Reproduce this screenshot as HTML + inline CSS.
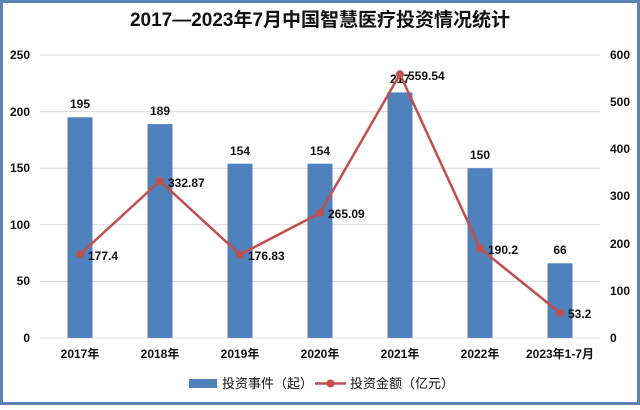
<!DOCTYPE html>
<html><head><meta charset="utf-8"><style>
body{margin:0;background:#fff;}
svg text{font-family:"Liberation Sans","Noto Sans CJK SC",sans-serif;}
</style></head><body>
<svg width="640" height="405" viewBox="0 0 640 405" xmlns="http://www.w3.org/2000/svg">
<rect x="1.5" y="1.5" width="637" height="402" fill="#fff" stroke="#5b84b5" stroke-width="3"/>
<text x="320" y="26" text-anchor="middle" font-size="19" font-weight="bold" fill="#111">2017—2023年7月中国智慧医疗投资情况统计</text>
<g stroke="#d9d9d9" stroke-width="1">
<line x1="40" x2="600" y1="55" y2="55"/><line x1="40" x2="600" y1="111.6" y2="111.6"/>
<line x1="40" x2="600" y1="168.2" y2="168.2"/><line x1="40" x2="600" y1="224.8" y2="224.8"/>
<line x1="40" x2="600" y1="281.4" y2="281.4"/><line x1="40" x2="600" y1="338" y2="338"/>
</g>
<g font-size="12" font-weight="bold" fill="#111">
<text x="30" y="59" text-anchor="end">250</text><text x="30" y="116" text-anchor="end">200</text>
<text x="30" y="172" text-anchor="end">150</text><text x="30" y="229" text-anchor="end">100</text>
<text x="30" y="285" text-anchor="end">50</text><text x="30" y="342" text-anchor="end">0</text>
<text x="610" y="59">600</text><text x="610" y="106">500</text><text x="610" y="153">400</text>
<text x="610" y="200">300</text><text x="610" y="248">200</text><text x="610" y="295">100</text><text x="610" y="342">0</text>
</g>
<g fill="#4f81bd">
<rect x="67.5" y="117.3" width="25" height="220.7"/>
<rect x="147.5" y="124.1" width="25" height="213.9"/>
<rect x="227.5" y="163.7" width="25" height="174.3"/>
<rect x="307.5" y="163.7" width="25" height="174.3"/>
<rect x="387.5" y="92.4" width="25" height="245.6"/>
<rect x="467.5" y="168.2" width="25" height="169.8"/>
<rect x="547.5" y="263.3" width="25" height="74.7"/>
</g>
<g font-size="12" font-weight="bold" fill="#111" text-anchor="middle">
<text x="80" y="108">195</text><text x="160" y="115">189</text><text x="240" y="155">154</text>
<text x="320" y="155">154</text><text x="400" y="83">217</text><text x="480" y="159">150</text><text x="560" y="254">66</text>
</g>
<polyline fill="none" stroke="#c0504d" stroke-width="2.5" points="80,254.3 160,181.0 240,254.6 320,213.0 400,74.2 480,248.3 560,312.9"/>
<g fill="#c0504d">
<circle cx="80" cy="254.3" r="4"/><circle cx="160" cy="181" r="4"/><circle cx="240" cy="254.6" r="4"/>
<circle cx="320" cy="213" r="4"/><circle cx="400" cy="74.2" r="4"/><circle cx="480" cy="248.3" r="4"/><circle cx="560" cy="312.9" r="4"/>
</g>
<g font-size="12" font-weight="bold" fill="#111">
<text x="88" y="260">177.4</text><text x="168" y="187">332.87</text><text x="248" y="260">176.83</text>
<text x="328" y="218">265.09</text><text x="408" y="80">559.54</text><text x="488" y="254">190.2</text><text x="568" y="318">53.2</text>
</g>
<g font-size="12" font-weight="bold" fill="#111" text-anchor="middle">
<text x="80" y="358">2017年</text><text x="160" y="358">2018年</text><text x="240" y="358">2019年</text>
<text x="320" y="358">2020年</text><text x="400" y="358">2021年</text><text x="480" y="358">2022年</text><text x="560" y="358">2023年1-7月</text>
</g>
<rect x="189" y="379" width="28" height="9" fill="#4f81bd"/>
<text x="222" y="388" font-size="13" fill="#111">投资事件（起）</text>
<line x1="315" x2="346" y1="383.5" y2="383.5" stroke="#c0504d" stroke-width="2.5"/>
<circle cx="330.5" cy="383.5" r="4" fill="#c0504d"/>
<text x="350" y="388" font-size="13" fill="#111">投资金额（亿元）</text>
</svg>
</body></html>
